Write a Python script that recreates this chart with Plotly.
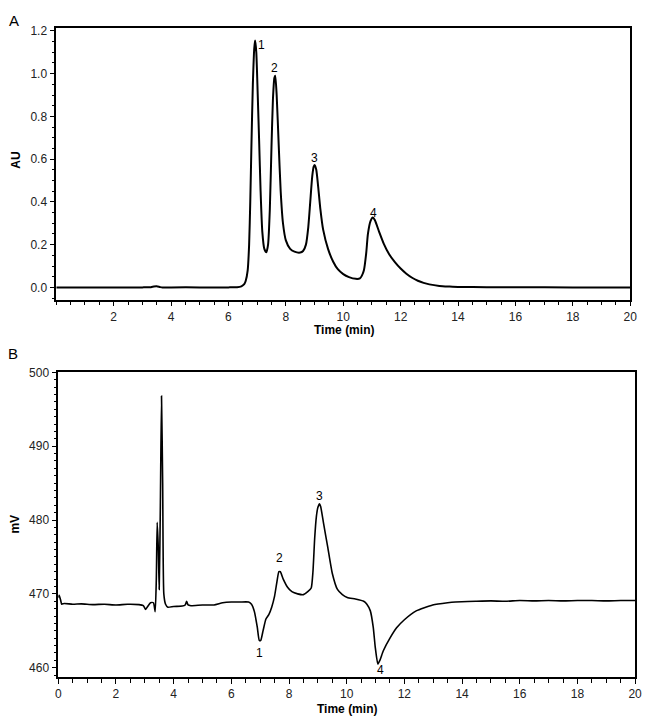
import plotly.graph_objects as go

# ---- Panel A: UV trace (AU) ----
time_a = [0, 1.0, 2.0, 3.0, 3.3, 3.4, 3.5, 3.6, 3.7, 4.0, 5.0, 6.0, 6.3, 6.45, 6.55, 6.6, 6.67, 6.72, 6.76, 6.8,
          6.85, 6.9, 6.93, 6.97, 7.02, 7.07, 7.12, 7.18, 7.25, 7.32, 7.38, 7.44, 7.5, 7.55, 7.6, 7.63,
          7.68, 7.75, 7.82, 7.9, 8.0, 8.15, 8.3, 8.5, 8.6, 8.7, 8.78, 8.85, 8.92, 8.97, 9.01, 9.06,
          9.12, 9.2, 9.3, 9.47, 9.65, 9.81, 10.0, 10.2, 10.44, 10.58, 10.65, 10.72, 10.8, 10.86,
          10.95, 11.03, 11.1, 11.25, 11.41, 11.6, 11.8, 12.0, 12.2, 12.4, 12.6, 12.8, 13.0,
          13.35, 13.7, 14.0, 15.0, 16.0, 18.0, 20.0]
au_a = [0, 0, 0, 0, 0.001, 0.004, 0.005, 0.002, -0.001, 0, 0, 0, 0.001, 0.005, 0.015, 0.03, 0.08, 0.2, 0.4, 0.66,
        0.95, 1.12, 1.155, 1.10, 0.90, 0.68, 0.45, 0.26, 0.18, 0.164, 0.20, 0.36, 0.66, 0.88, 0.98, 0.99,
        0.90, 0.67, 0.45, 0.30, 0.22, 0.18, 0.167, 0.163, 0.17, 0.2, 0.28, 0.40, 0.52, 0.565, 0.572, 0.55,
        0.48, 0.37, 0.27, 0.18, 0.12, 0.085, 0.062, 0.048, 0.040, 0.042, 0.055, 0.08, 0.16, 0.25,
        0.31, 0.327, 0.315, 0.26, 0.205, 0.155, 0.118, 0.088, 0.064, 0.045, 0.031, 0.021, 0.014,
        0.007, 0.004, 0.002, 0.001, 0.0005, 0, 0]
peaks_a_t = [7.16, 7.62, 9.01, 11.05]
peaks_a_y = [1.134, 1.025, 0.605, 0.35]
peak_labels = ["1", "2", "3", "4"]

# ---- Panel B: detector trace (mV) ----
time_b = [0.0, 0.03, 0.08, 0.12, 0.2, 0.5, 0.8, 1.2, 1.6, 2.0, 2.4, 2.8, 2.95, 3.03, 3.1, 3.2, 3.3, 3.36,
          3.40, 3.43, 3.47, 3.50, 3.54, 3.58, 3.62, 3.66, 3.72, 3.8, 4.0, 4.3, 4.4, 4.45, 4.5, 4.6, 5.0,
          5.4, 5.7, 6.0, 6.3, 6.6, 6.7, 6.8, 6.9, 6.97, 7.02, 7.1, 7.2, 7.3, 7.4, 7.5, 7.58, 7.65, 7.7,
          7.8, 7.95, 8.1, 8.3, 8.5, 8.65, 8.77, 8.83, 8.89, 8.95, 9.0, 9.06, 9.1, 9.2, 9.34, 9.5, 9.68,
          9.85, 10.02, 10.3, 10.59, 10.7, 10.82, 10.92, 10.99, 11.08, 11.15, 11.27, 11.5, 11.73, 12.0,
          12.41, 12.98, 13.5, 13.77, 14.5, 15.0, 15.5, 16.0, 16.5, 17.0, 17.5, 18.0, 18.5, 19.0, 19.5, 20.0]
mv_b = [469.5, 469.8, 469.2, 468.6, 468.7, 468.6, 468.65, 468.55, 468.6, 468.5, 468.6, 468.55, 468.4, 467.9,
        468.3, 468.8, 468.8, 467.6, 472.0, 479.7, 476.0, 470.6, 482.0, 496.8, 485.0, 470.0, 468.6, 468.2,
        468.3, 468.35, 468.5, 469.0, 468.5, 468.4, 468.5, 468.5, 468.8, 468.9, 468.9, 468.9, 468.6, 467.6,
        465.5, 463.7, 463.7, 465.0, 466.6, 467.2, 468.2, 469.7, 471.6, 473.0, 473.0, 472.0, 470.9, 470.3,
        470.0, 469.9, 470.3, 470.8, 473.0, 477.5, 480.5, 481.7, 482.2, 481.8, 479.5, 476.4, 472.8, 470.6,
        469.9, 469.5, 469.3, 469.0, 468.6, 467.7, 465.5, 462.8, 460.5, 461.0, 462.3, 464.0, 465.4, 466.5,
        467.7, 468.5, 468.8, 468.9, 469.0, 469.05, 469.0, 469.1, 469.05, 469.1, 469.05, 469.1, 469.1,
        469.05, 469.1, 469.1]
peaks_b_t = [6.99, 7.67, 9.06, 11.16]
peaks_b_y = [461.96, 474.8, 483.2, 459.7]

# the page body has an 8px margin, so the figure is drawn 8px smaller and all
# reference pixel positions are shifted by that offset
OFF = 8
W, H = 650 - OFF, 718 - OFF
FONT = "Liberation Sans, Arial, sans-serif"

fig = go.Figure()
fig.add_trace(go.Scatter(x=time_a, y=au_a, mode="lines", xaxis="x", yaxis="y",
                         line=dict(color="black", width=2, shape="spline", smoothing=0.6),
                         showlegend=False, hoverinfo="skip"))
fig.add_trace(go.Scatter(x=time_b, y=mv_b, mode="lines", xaxis="x2", yaxis="y2",
                         line=dict(color="black", width=1.6, shape="spline", smoothing=0.5),
                         showlegend=False, hoverinfo="skip"))

anns = []
for t, y, lab in zip(peaks_a_t, peaks_a_y, peak_labels):
    anns.append(dict(x=t, y=y, xref="x", yref="y", text=lab, showarrow=False,
                     xanchor="center", yanchor="middle",
                     font=dict(size=12, color="black", family=FONT)))
for t, y, lab in zip(peaks_b_t, peaks_b_y, peak_labels):
    anns.append(dict(x=t, y=y, xref="x2", yref="y2", text=lab, showarrow=False,
                     xanchor="center", yanchor="middle",
                     font=dict(size=12, color="black", family=FONT)))


def px(xp):
    return (xp - OFF) / W


def py(yp):
    return 1 - (yp - OFF) / H


def label(x, y, text, size=12, angle=0):
    return dict(x=px(x), y=py(y), xref="paper", yref="paper", text=text, showarrow=False,
                xanchor="center", yanchor="middle", textangle=angle,
                font=dict(size=size, color="black", family=FONT))


anns += [
    label(11, 15, "A", size=15),
    label(10, 350, "B", size=15),
    label(13, 155, "<b>AU</b>", angle=-90),
    label(12, 522, "<b>mV</b>", angle=-90),
    label(346, 327, "<b>Time (min)</b>"),
    label(349, 709, "<b>Time (min)</b>"),
]

axis_common = dict(showline=True, linecolor="black", linewidth=1.5, mirror=True, showgrid=False,
                   zeroline=False, ticks="outside", ticklen=5, tickwidth=1.2, tickcolor="black",
                   tickfont=dict(size=12, color="#222", family=FONT))

fig.update_layout(
    width=W, height=H, paper_bgcolor="white", plot_bgcolor="white",
    margin=dict(l=0, r=0, t=0, b=0),
    font=dict(family=FONT, color="black"),
    xaxis=dict(axis_common, domain=[px(54), px(637)], range=[0, 20], anchor="y",
               tickvals=[2, 4, 6, 8, 10, 12, 14, 16, 18, 20],
               minor=dict(dtick=0.5, tick0=0, ticklen=4, tickwidth=1.2, tickcolor="black", ticks="outside")),
    yaxis=dict(axis_common, domain=[py(296), py(22)], range=[-0.057, 1.214], anchor="x",
               tickvals=[0, 0.2, 0.4, 0.6, 0.8, 1.0, 1.2], tickformat=".1f",
               minor=dict(dtick=0.05, tick0=0, ticklen=3, tickwidth=1.2, tickcolor="black", ticks="outside")),
    xaxis2=dict(axis_common, domain=[px(56), px(642)], range=[0, 20], anchor="y2",
                tickvals=[0, 2, 4, 6, 8, 10, 12, 14, 16, 18, 20],
                minor=dict(dtick=0.5, tick0=0, ticklen=4, tickwidth=1.2, tickcolor="black", ticks="outside")),
    yaxis2=dict(axis_common, domain=[py(677), py(369)], range=[458.7, 500.05], anchor="x2",
                tickvals=[460, 470, 480, 490, 500],
                minor=dict(dtick=1, tick0=460, ticklen=3, tickwidth=1.2, tickcolor="black", ticks="outside")),
    annotations=anns,
)

fig.write_html("out.html")
